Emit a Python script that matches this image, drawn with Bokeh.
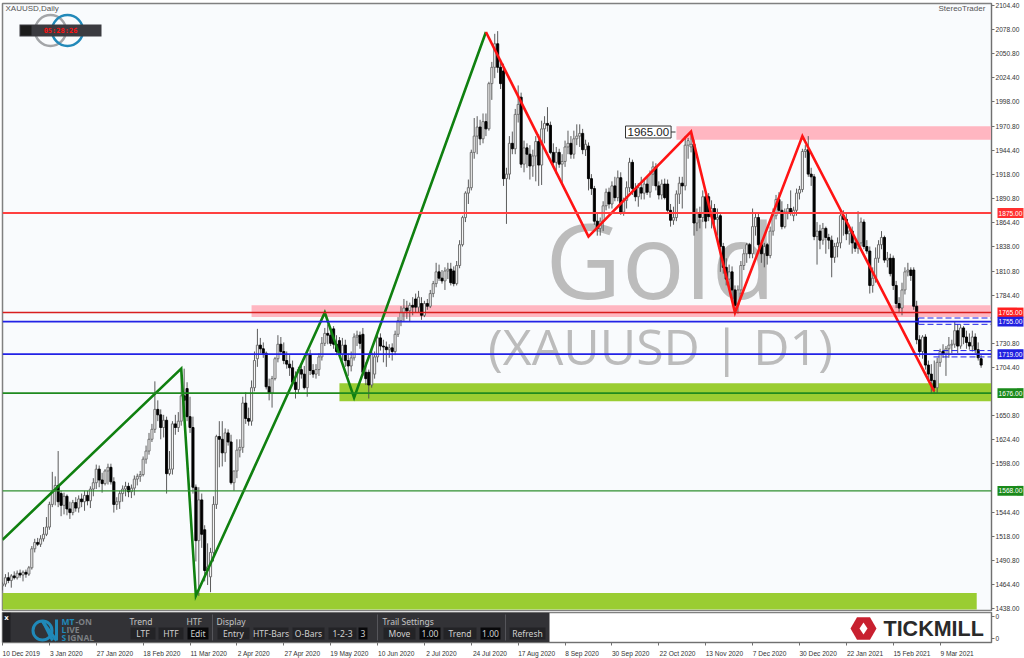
import numpy as np
from bokeh.core.properties import value
from bokeh.embed import file_html
from bokeh.layouts import column
from bokeh.models import FixedTicker, Label, NumeralTickFormatter, Range1d, Span
from bokeh.plotting import figure
from bokeh.resources import INLINE

opens = [
1463,1465,1472,1469,1474,1472,1477,1475,1478,1476,
1483,1504,1511,1509,1515,1520,1528,1553,1568,1574,
1565,1552,1562,1548,1544,1555,1549,1559,1556,1563,
1557,1570,1577,1592,1580,1576,1590,1594,1578,1553,
1556,1565,1570,1573,1567,1571,1581,1584,1586,1603,
1612,1625,1636,1658,1652,1638,1646,1587,1592,1642,
1638,1645,1673,1681,1650,1638,1572,1513,1558,1525,
1480,1473,1500,1553,1628,1625,1610,1632,1622,1577,
1590,1613,1616,1665,1648,1645,1682,1714,1729,1725,
1720,1683,1676,1692,1714,1730,1722,1712,1708,1704,
1688,1680,1702,1697,1682,1718,1701,1697,1702,1716,
1731,1742,1740,1747,1730,1734,1719,1729,1712,1706,
1715,1738,1740,1741,1699,1699,1685,1697,1716,1737,
1728,1727,1724,1726,1722,1741,1756,1765,1770,1767,
1773,1780,1771,1775,1762,1775,1772,1786,1797,1810,
1803,1800,1811,1813,1811,1797,1817,1840,1870,1897,
1903,1942,1960,1970,1957,1976,1968,2018,2036,2062,
2036,2032,1913,1918,1952,1946,1984,2003,1929,1947,
1940,1927,1938,1954,1928,1968,1974,1972,1942,1931,
1942,1929,1932,1948,1952,1940,1957,1960,1963,1945,
1949,1913,1902,1866,1858,1866,1883,1898,1885,1905,
1892,1914,1876,1889,1903,1931,1902,1893,1903,1897,
1907,1898,1918,1926,1905,1895,1907,1907,1878,1867,
1870,1896,1908,1905,1950,1948,1951,1864,1875,1870,
1893,1893,1871,1880,1868,1872,1838,1815,1802,1810,
1790,1773,1790,1817,1830,1840,1830,1860,1870,1840,
1830,1840,1828,1855,1872,1890,1878,1860,1876,1880,
1872,1878,1897,1901,1943,1945,1918,1915,1849,1855,
1845,1858,1848,1845,1826,1838,1842,1872,1868,1852,
1855,1842,1836,1842,1865,1838,1833,1795,1803,1825,
1840,1848,1823,1825,1825,1795,1775,1770,1790,1810,
1812,1812,1772,1735,1722,1738,1707,1697,1690,1682,
1710,1722,1719,1725,1729,1730,1745,1728,1748,1738,
1732,1728,1738,1724,1714]
highs = [
1467,1476,1478,1476,1479,1480,1481,1480,1481,1485,
1507,1515,1516,1519,1528,1539,1556,1589,1584,1612,
1568,1566,1564,1556,1558,1561,1563,1565,1568,1568,
1573,1582,1597,1596,1588,1592,1598,1598,1583,1561,
1568,1574,1578,1577,1575,1585,1587,1590,1606,1618,
1632,1642,1689,1668,1658,1652,1650,1612,1645,1652,
1655,1703,1703,1688,1672,1650,1575,1572,1565,1530,
1510,1505,1562,1630,1645,1645,1637,1636,1630,1590,
1625,1625,1672,1677,1660,1690,1722,1747,1737,1732,
1722,1692,1695,1716,1740,1738,1732,1722,1718,1712,
1700,1705,1708,1706,1720,1724,1708,1708,1720,1738,
1748,1752,1748,1750,1740,1738,1737,1735,1720,1722,
1742,1745,1744,1748,1710,1702,1725,1722,1745,1742,
1735,1733,1730,1731,1745,1760,1772,1780,1778,1776,
1782,1786,1789,1782,1778,1780,1790,1800,1820,1818,
1812,1815,1820,1820,1816,1822,1845,1872,1899,1912,
1945,1980,1982,1978,1985,1985,2020,2042,2073,2076,
2045,2040,1925,1960,1965,1990,2016,2008,1955,1952,
1950,1945,1960,1962,1977,1982,1992,1976,1952,1948,
1946,1940,1955,1966,1960,1966,1973,1973,1968,1956,
1953,1918,1905,1875,1870,1888,1902,1903,1910,1915,
1922,1920,1892,1910,1936,1934,1908,1908,1915,1912,
1915,1922,1932,1930,1910,1912,1913,1912,1885,1882,
1900,1915,1915,1960,1958,1965,1956,1880,1882,1900,
1897,1897,1889,1885,1880,1876,1842,1825,1818,1816,
1795,1795,1822,1835,1842,1842,1880,1875,1875,1845,
1842,1842,1860,1880,1895,1898,1888,1880,1885,1900,
1882,1902,1905,1946,1950,1960,1925,1918,1865,1862,
1864,1860,1852,1850,1842,1848,1875,1878,1875,1862,
1860,1848,1877,1870,1868,1845,1838,1815,1837,1845,
1855,1850,1832,1830,1828,1800,1782,1798,1815,1820,
1815,1815,1778,1740,1740,1741,1712,1708,1712,1715,
1725,1730,1728,1738,1735,1755,1752,1752,1750,1745,
1742,1745,1742,1732,1718]
lows = [
1458,1462,1466,1461,1470,1470,1472,1468,1472,1474,
1481,1500,1507,1506,1512,1518,1525,1550,1552,1550,
1540,1542,1541,1537,1541,1545,1544,1550,1546,1552,
1549,1562,1570,1572,1566,1574,1575,1575,1544,1547,
1548,1556,1562,1561,1560,1563,1574,1578,1584,1598,
1608,1622,1632,1645,1625,1627,1565,1585,1586,1630,
1633,1640,1655,1645,1632,1565,1490,1452,1505,1468,
1464,1456,1490,1548,1594,1595,1600,1618,1575,1568,
1582,1605,1610,1642,1640,1640,1678,1705,1720,1715,
1680,1668,1660,1690,1710,1718,1708,1703,1695,1685,
1670,1675,1692,1680,1672,1696,1693,1692,1695,1712,
1728,1730,1728,1725,1718,1715,1712,1705,1695,1700,
1712,1728,1725,1695,1685,1670,1682,1692,1710,1723,
1710,1705,1715,1712,1718,1738,1750,1755,1758,1755,
1762,1765,1765,1757,1760,1768,1770,1782,1793,1800,
1797,1790,1802,1795,1794,1795,1814,1838,1865,1885,
1900,1935,1940,1950,1952,1960,1966,2000,2024,2030,
2012,1905,1863,1912,1940,1940,1975,1925,1920,1925,
1912,1915,1910,1905,1906,1952,1965,1940,1925,1918,
1925,1908,1926,1940,1935,1935,1950,1948,1940,1938,
1900,1895,1862,1850,1850,1855,1878,1880,1880,1888,
1888,1873,1872,1880,1898,1895,1888,1882,1890,1890,
1895,1892,1905,1900,1890,1890,1890,1874,1860,1862,
1866,1885,1880,1900,1935,1942,1850,1855,1858,1865,
1858,1866,1858,1860,1850,1810,1808,1795,1790,1780,
1765,1764,1785,1812,1820,1825,1825,1850,1830,1820,
1815,1818,1825,1850,1868,1875,1857,1858,1868,1872,
1866,1872,1890,1898,1936,1915,1905,1845,1818,1835,
1840,1830,1835,1804,1820,1826,1836,1850,1845,1840,
1830,1832,1830,1838,1835,1830,1786,1787,1798,1820,
1835,1820,1815,1805,1790,1770,1765,1762,1785,1805,
1800,1768,1730,1716,1714,1702,1690,1675,1675,1676,
1705,1715,1695,1715,1720,1726,1720,1725,1730,1725,
1724,1722,1720,1712,1704]
closes = [
1465,1472,1469,1474,1472,1477,1475,1478,1476,1483,
1504,1511,1509,1515,1520,1528,1553,1568,1574,1556,
1552,1562,1548,1544,1555,1549,1559,1556,1563,1557,
1570,1577,1592,1580,1576,1590,1594,1578,1553,1556,
1565,1570,1573,1567,1571,1581,1584,1586,1603,1612,
1625,1636,1658,1652,1638,1646,1587,1592,1642,1638,
1645,1673,1668,1650,1638,1572,1513,1558,1520,1480,
1484,1500,1553,1628,1625,1610,1632,1622,1577,1590,
1613,1616,1665,1648,1645,1682,1712,1729,1725,1720,
1683,1676,1692,1714,1730,1722,1712,1708,1704,1688,
1680,1702,1697,1682,1718,1701,1697,1702,1716,1731,
1742,1740,1731,1730,1722,1719,1729,1712,1706,1715,
1738,1740,1731,1699,1692,1685,1720,1716,1737,1728,
1727,1724,1726,1722,1741,1756,1765,1770,1767,1773,
1771,1771,1782,1762,1775,1772,1786,1797,1810,1803,
1800,1811,1813,1798,1797,1817,1840,1870,1897,1903,
1942,1960,1970,1957,1976,1968,2018,2036,2062,2036,
2018,1913,1918,1952,1946,1984,1995,1929,1947,1940,
1927,1938,1954,1928,1968,1974,1972,1942,1931,1942,
1929,1932,1948,1952,1940,1957,1960,1963,1945,1951,
1913,1902,1866,1858,1866,1883,1898,1885,1905,1892,
1914,1876,1889,1903,1931,1902,1893,1903,1897,1907,
1898,1918,1926,1905,1895,1907,1892,1878,1867,1870,
1896,1908,1905,1950,1955,1951,1864,1875,1870,1893,
1866,1871,1880,1868,1870,1838,1815,1802,1810,1790,
1773,1790,1817,1830,1840,1830,1860,1870,1840,1830,
1838,1828,1855,1872,1890,1878,1860,1876,1880,1875,
1878,1897,1901,1943,1945,1918,1915,1849,1855,1845,
1858,1848,1845,1826,1838,1842,1872,1868,1852,1855,
1842,1836,1842,1865,1838,1833,1795,1803,1825,1840,
1848,1823,1825,1808,1795,1775,1770,1790,1810,1812,
1806,1772,1735,1722,1738,1707,1697,1690,1682,1710,
1722,1719,1725,1729,1730,1745,1728,1748,1738,1732,
1728,1738,1724,1715,1707]

date_labels = ["10 Dec 2019","3 Jan 2020","27 Jan 2020","18 Feb 2020","11 Mar 2020","2 Apr 2020",
               "27 Apr 2020","19 May 2020","10 Jun 2020","2 Jul 2020","24 Jul 2020","17 Aug 2020",
               "8 Sep 2020","30 Sep 2020","22 Oct 2020","13 Nov 2020","7 Dec 2020","30 Dec 2020",
               "22 Jan 2021","15 Feb 2021","9 Mar 2021"]
price_ticks = [1438,1464.4,1490.8,1518,1544.4,1598,1624.4,1650.8,1704.4,1730.8,1784.4,1810.8,1838,
               1864.4,1890.8,1918,1944.4,1970.8,1998,2024.4,2050.8,2078,2104.4]

green_pivot_bars = [0,61,66,110,120,165]
green_pivot_prices = [1514,1703,1452,1765,1671,2075]
red_pivot_bars = [165,200,235,250,273,318]
red_pivot_prices = [2075,1849,1965,1765,1960,1678]

zone_start_bars = [230,85,115,0]
zone_end_bars = [338,338,338,332.5]
zone_tops = [1971,1773,1687,1455]
zone_bottoms = [1956,1760,1667,1437]
zone_colors = ["#ffb6c1","#ffb6c1","#9acd32","#9acd32"]

level_prices = [1875,1765,1755,1719,1676,1568]
level_colors = ["#ff4040","#d81e1e","#2222e6","#2222e6","#1f8a1f","#2f8f2f"]
level_widths = [2,1.4,1.8,1.8,1.6,1.4]
tag_colors = ["#ff3030","#ff2020","#2020e0","#2020e0","#1a8a1a","#1a8a1a"]

BAR_PX = 2.93
def X(px):  # reference pixel column to bar number
    return (px - 2) / BAR_PX
def P(py):  # reference pixel row to price
    return 1438 + (608 - py) * 1.105

x_rng = Range1d(X(2), X(991))
main = figure(width=1024, height=611, frame_width=989, frame_height=607, x_range=x_rng,
              y_range=Range1d(P(610), P(3)), y_axis_location="right", x_axis_location=None,
              toolbar_location=None, output_backend="svg", min_border_left=2, min_border_top=3,
              min_border_bottom=1, min_border_right=33, background_fill_color="#f9fbfd",
              border_fill_color="white", outline_line_color="#808080", outline_line_width=1.5)
main.grid.visible = False
ax = main.yaxis[0]
ax.ticker = FixedTicker(ticks=price_ticks)
ax.formatter = NumeralTickFormatter(format="0.00")
ax.minor_tick_line_color = None
ax.major_tick_in = 0
ax.major_tick_out = 3
ax.major_label_standoff = 1
ax.axis_line_color = "#707070"
ax.major_tick_line_color = "#707070"
ax.major_label_text_color = "#333333"
ax.major_label_text_font = "Liberation Sans"
ax.major_label_text_font_size = "6.6px"

main.quad(left=zone_start_bars, right=zone_end_bars, top=zone_tops, bottom=zone_bottoms,
          fill_color=zone_colors, line_color=None)

main.text(x=[X(660)], y=[P(258)], text=["Gold"], text_color="#bcbcbc", text_align="center",
          text_baseline="middle", text_font=value("Open Sans"), text_font_size="105px")
main.text(x=[X(660)], y=[P(345)], text=["(XAUUSD | D1)"], text_color="#bcbcbc", text_align="center",
          text_baseline="middle", text_font=value("Open Sans"), text_font_size="50px")

o, h, l, c = map(np.array, (opens, highs, lows, closes))
bars = np.arange(len(c))
up = c >= o
main.segment(bars, h, bars, l, line_color="#4a4a4a", line_width=0.9)
main.vbar(bars[up], 0.72, o[up], c[up], fill_color="#f4f4f4", line_color="#666666", line_width=0.9)
main.vbar(bars[~up], 0.72, o[~up], c[~up], fill_color="#000000", line_color="#000000", line_width=0.9)

for lvl, col, wid in zip(level_prices, level_colors, level_widths):
    main.add_layout(Span(location=lvl, dimension="width", line_color=col, line_width=wid))

# dashed channels beside the last bars
main.segment([X(918)]*2 + [X(933)]*2, [1759,1752,1723,1716], [X(991)]*4, [1759,1752,1723,1716],
             line_color="#2222e6", line_width=1, line_dash="6 3")
main.segment([X(918)], [1752], [X(918)], [1759], line_color="#2222e6", line_width=1)

main.line(green_pivot_bars, green_pivot_prices, line_color="#108010", line_width=2.6, line_join="miter")
main.line(red_pivot_bars, red_pivot_prices, line_color="#ff1414", line_width=2.6, line_join="miter")

main.add_layout(Label(x=X(625), y=P(131.5), text="1965.00", text_color="#222222", text_font="Liberation Sans",
                      text_font_size="11.5px", text_align="left", text_baseline="middle", padding=2,
                      background_fill_color="white", border_line_color="#333333"))
main.segment([X(668)], [P(131.5)], [X(675)], [P(131.5)], line_color="#333333", line_width=1)

main.add_layout(Label(x=X(5), y=P(8), text="XAUUSD,Daily", text_color="#555555", text_font="Liberation Sans",
                      text_font_size="8px", text_align="left", text_baseline="middle"))
main.add_layout(Label(x=X(938), y=P(8), text="StereoTrader", text_color="#555555", text_font="Liberation Sans",
                      text_font_size="8px", text_align="left", text_baseline="middle"))

main.scatter([X(50)], [P(30)], marker="circle", size=31, fill_color=None, line_color="#a3a5a8", line_width=2.5)
main.scatter([X(67)], [P(30)], marker="circle", size=31, fill_color=None, line_color="#2289b9", line_width=2.5)
main.quad(left=[X(19)], right=[X(101)], top=[P(24)], bottom=[P(36)], fill_color="#3b3b40", line_color=None)
main.quad(left=[X(20)], right=[X(31)], top=[P(25)], bottom=[P(35)], fill_color="#1c1c1c", line_color=None)
main.text(x=[X(60)], y=[P(30)], text=["05:28:26"], text_color="#ff1010", text_align="center",
          text_baseline="middle", text_font=value("DejaVu Sans Mono"), text_font_style="bold", text_font_size="7px")

# price tags over the right-hand scale, on a thin transparent layer sharing the price range
tags = figure(width=33, height=607, frame_width=33, frame_height=607, x_range=Range1d(991, 1024),
              y_range=main.y_range, x_axis_location=None, y_axis_location=None, toolbar_location=None,
              output_backend="svg", min_border_left=0, min_border_right=0, min_border_top=0,
              min_border_bottom=0, background_fill_color=None, border_fill_color=None, outline_line_color=None,
              styles={"position": "absolute", "left": "991px", "top": "3px"})
tags.grid.visible = False
tags.quad(left=[995]*6, right=[1021]*6, top=[v + 5.5 for v in level_prices], bottom=[v - 5.5 for v in level_prices],
          fill_color=tag_colors, line_color=None)
tags.text(x=[1008]*6, y=level_prices, text=[f"{v:.2f}" for v in level_prices], text_color="white",
          text_align="center", text_baseline="middle", text_font=value("Liberation Sans"), text_font_size="6.6px")

sub = figure(width=1024, height=47, frame_width=989, frame_height=30, x_range=x_rng,
             y_range=Range1d(642, 612), y_axis_location="right", toolbar_location=None,
             output_backend="svg", min_border_left=2, min_border_top=1, min_border_bottom=0,
             min_border_right=33, background_fill_color="white", border_fill_color="white",
             outline_line_color="#808080", outline_line_width=1.5)
sub.grid.visible = False
sa = sub.yaxis[0]
sa.ticker = FixedTicker(ticks=[616, 638])
sa.major_label_overrides = {616: "0", 638: "0"}
sa.minor_tick_line_color = None
sa.major_tick_in = 0
sa.major_tick_out = 3
sa.major_label_standoff = 1
sa.axis_line_color = "#707070"
sa.major_tick_line_color = "#707070"
sa.major_label_text_color = "#333333"
sa.major_label_text_font_size = "6.6px"

# labels start at their tick, as in the reference: the tick marks are the minor ticks, and each
# label sits half its width to the right of its own tick
tick_bars = [i * 16 for i in range(len(date_labels))]
label_pos = [round(t + 3.4 * len(s) / 2 / BAR_PX, 2) for t, s in zip(tick_bars, date_labels)]
xa = sub.xaxis[0]
xa.ticker = FixedTicker(ticks=label_pos, minor_ticks=tick_bars)
xa.major_label_overrides = dict(zip(label_pos, date_labels))
xa.major_tick_line_color = None
xa.major_tick_in = 0
xa.major_tick_out = 0
xa.minor_tick_in = 0
xa.minor_tick_out = 3
xa.minor_tick_line_color = "#707070"
xa.axis_line_color = "#707070"
xa.major_label_standoff = 4
xa.major_label_text_color = "#333333"
xa.major_label_text_font = "Liberation Sans"
xa.major_label_text_font_size = "6.6px"

sub.quad(left=[X(2)], right=[X(549)], top=[612], bottom=[642], fill_color="#323236", line_color=None)

btn_l = [130,158,187,217,253,292,328,358,383,419,443,480,509]
btn_r = [155,183,208,249,288,324,356,367,415,440,476,500,545]
btn_t = ["LTF","HTF","Edit","Entry","HTF-Bars","O-Bars","1-2-3","3","Move","1.00","Trend","1.00","Refresh"]
btn_f = ["#232326","#232326","#08080a","#232326","#232326","#232326","#232326","#08080a","#232326",
         "#08080a","#232326","#08080a","#232326"]
sub.quad(left=[X(v) for v in btn_l], right=[X(v) for v in btn_r], top=[627]*13, bottom=[639]*13,
         fill_color=btn_f, line_color=None)
sub.text(x=[X((a + b) / 2) for a, b in zip(btn_l, btn_r)], y=[633]*13, text=btn_t, text_color="#d0d0d0",
         text_align="center", text_baseline="middle", text_font=value("Noto Sans"), text_font_size="8.5px")
hdr_x = [129,186,216,382]
sub.text(x=[X(v) for v in hdr_x], y=[621]*4, text=["Trend","HTF","Display","Trail Settings"], text_color="#c4c4c4",
         text_align="left", text_baseline="middle", text_font=value("Noto Sans"), text_font_size="8.5px")
sep_x = [212,377,505]
sub.segment([X(v) for v in sep_x], [614]*3, [X(v) for v in sep_x], [640]*3, line_color="#55555a", line_width=1)
sub.quad(left=[X(2)], right=[X(10)], top=[612], bottom=[642], fill_color="#1f1f22", line_color=None)
sub.text(x=[X(6)], y=[617], text=["x"], text_color="white", text_align="center", text_baseline="middle",
         text_font=value("DejaVu Sans"), text_font_style="bold", text_font_size="7px")

sub.scatter([X(42)], [630], marker="circle", size=19, fill_color=None, line_color="#2089b8", line_width=3)
sub.segment([X(42), X(42)], [620, 621], [X(52), X(56)], [640, 640], line_color="#2089b8", line_width=3)
sub.segment([X(56)], [619], [X(56)], [640], line_color="#2089b8", line_width=3)
for px, py, txt, col in [(61, 621, "MT", "#2089b8"), (75, 621, "-ON", "#7c8084"), (61, 629, "L", "#2089b8"),
                         (66, 629, "IVE", "#7c8084"), (61, 637, "S", "#2089b8"), (67, 637, "IGNAL", "#7c8084")]:
    sub.text(x=[X(px)], y=[py], text=[txt], text_color=col, text_align="left", text_baseline="middle",
             text_font=value("Open Sans"), text_font_style="bold", text_font_size="8.5px")

sub.scatter([X(863)], [628], marker="hex", size=26, fill_color="#c8202f", line_color=None)
sub.scatter([X(863)], [628], marker="diamond", size=12, fill_color="white", line_color=None)
sub.text(x=[X(883)], y=[628], text=["TICKMILL"], text_color="#2a2a2a", text_align="left", text_baseline="middle",
         text_font=value("Liberation Sans"), text_font_style="bold", text_font_size="21.5px")

page = column(main, sub, tags, spacing=0)
open("out.html", "w").write(file_html(page, INLINE))
